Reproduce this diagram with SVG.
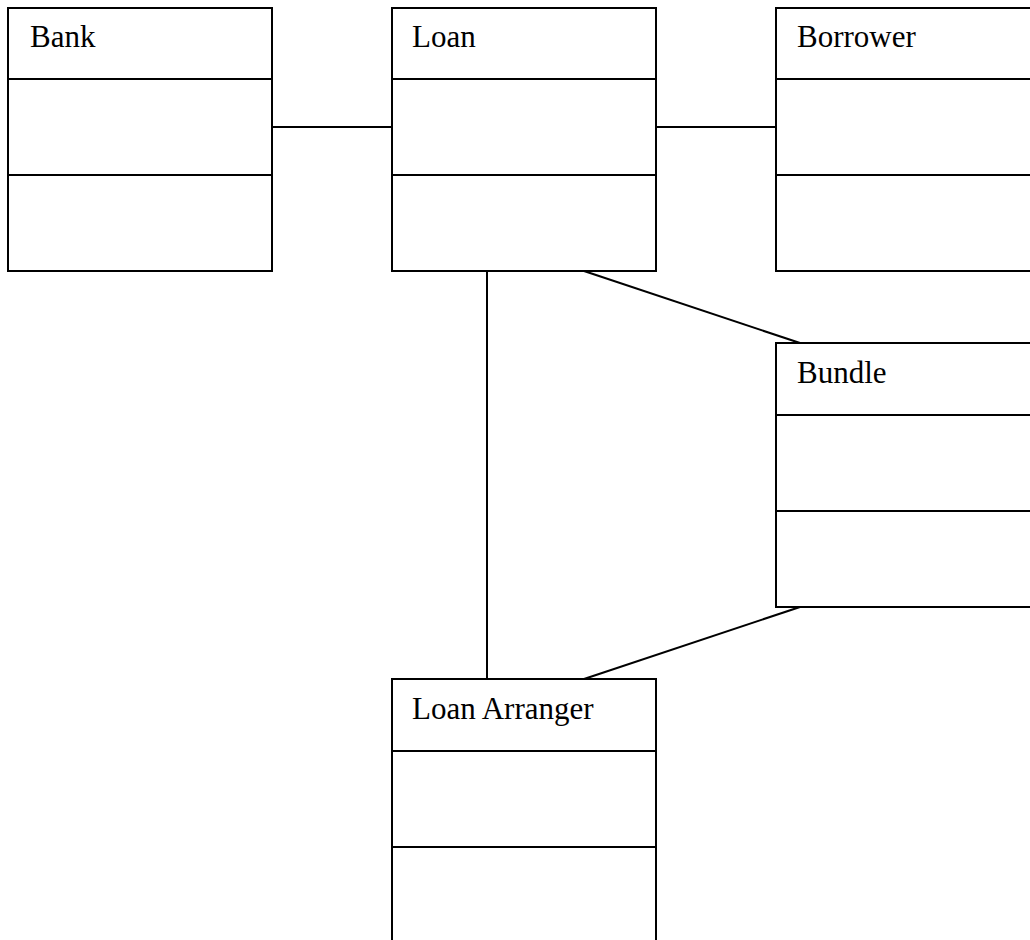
<svg xmlns="http://www.w3.org/2000/svg" width="1030" height="940" viewBox="0 0 1030 940">
<style>
.box{fill:#fff;stroke:#000;stroke-width:2}
.div{stroke:#000;stroke-width:2}
.lbl{font-family:"Liberation Serif","Times New Roman",serif;font-size:31px;fill:#000}
.conn line{stroke:#000;stroke-width:2}
</style>
<rect width="1030" height="940" fill="#fff"/>
<g class="conn" id="connectors">
<line x1="272" y1="127" x2="392" y2="127"/>
<line x1="656" y1="127" x2="776" y2="127"/>
<line x1="487" y1="271" x2="487" y2="679"/>
<line x1="584" y1="271" x2="800" y2="343"/>
<line x1="800" y1="607" x2="584" y2="679"/>
</g>
<g id="bank">
<rect class="box" x="8" y="8" width="264" height="263"/>
<line class="div" x1="8" y1="79" x2="272" y2="79"/>
<line class="div" x1="8" y1="175" x2="272" y2="175"/>
<text class="lbl" x="30" y="47">Bank</text>
</g>
<g id="loan">
<rect class="box" x="392" y="8" width="264" height="263"/>
<line class="div" x1="392" y1="79" x2="656" y2="79"/>
<line class="div" x1="392" y1="175" x2="656" y2="175"/>
<text class="lbl" x="412" y="47">Loan</text>
</g>
<g id="borrower">
<rect class="box" x="776" y="8" width="264" height="263"/>
<line class="div" x1="776" y1="79" x2="1040" y2="79"/>
<line class="div" x1="776" y1="175" x2="1040" y2="175"/>
<text class="lbl" x="797" y="47">Borrower</text>
</g>
<g id="bundle">
<rect class="box" x="776" y="343" width="264" height="264"/>
<line class="div" x1="776" y1="415" x2="1040" y2="415"/>
<line class="div" x1="776" y1="511" x2="1040" y2="511"/>
<text class="lbl" x="797" y="383">Bundle</text>
</g>
<g id="loan-arranger">
<rect class="box" x="392" y="679" width="264" height="264"/>
<line class="div" x1="392" y1="751" x2="656" y2="751"/>
<line class="div" x1="392" y1="847" x2="656" y2="847"/>
<text class="lbl" x="412" y="719">Loan Arranger</text>
</g>
</svg>
